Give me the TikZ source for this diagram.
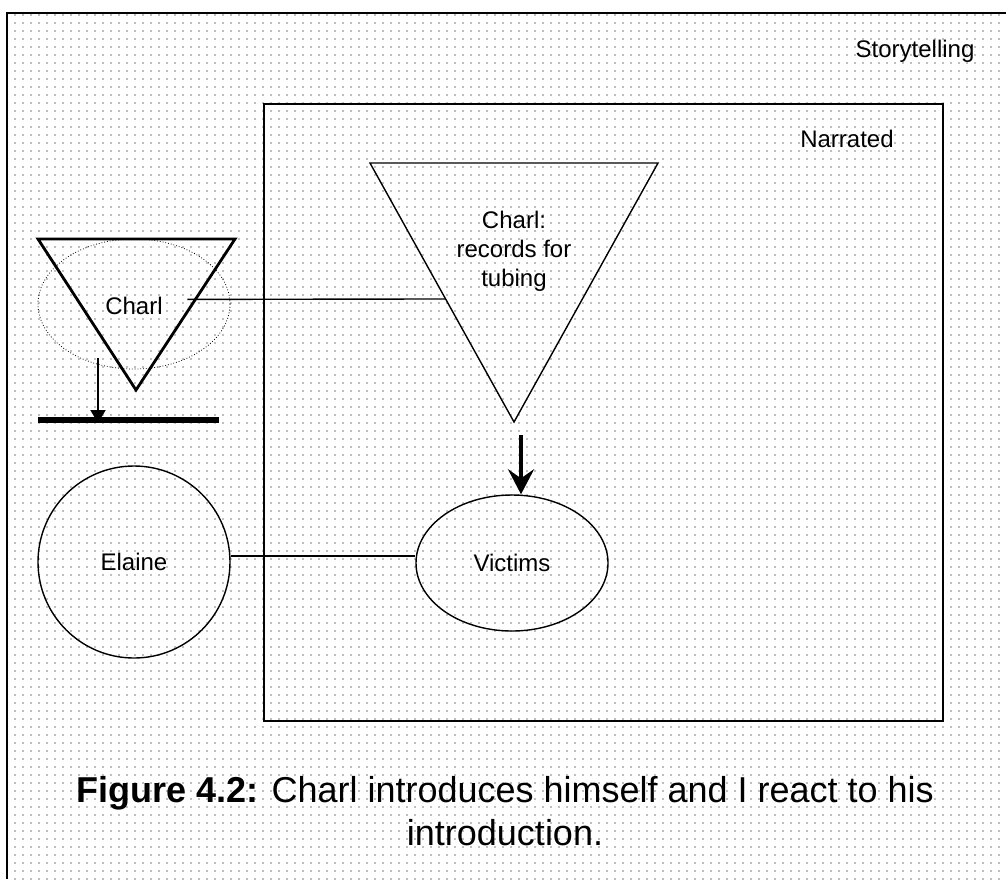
\documentclass[tikz,border=0pt]{standalone}
\usepackage{fontspec}
\setmainfont{Liberation Sans}
\usetikzlibrary{shapes.geometric, arrows.meta, calc}
\definecolor{dotgrey}{RGB}{190,190,190}
\tikzset{>=Stealth,
  every node/.style={font=\fontsize{12}{14.5}\selectfont, inner sep=1pt},
  thinshape/.style={draw, line width=0.7pt},
  dotrow/.style={dotgrey, line width=1pt, dash pattern=on 1pt off 3pt},
  bigarrow/.style={->, >={Stealth[length=12.5pt, width=13pt, inset=4.5pt]}, line width=2pt},
  droparrow/.style={->, >={Triangle[length=6.5pt, width=7.5pt]}, line width=1pt}}

\begin{document}
\begin{tikzpicture}[x=0.5pt, y=-0.5pt]
\useasboundingbox (0,0) rectangle (1006,879);
\foreach \y in {15,23,...,879}
\draw[dotrow] (14,\y) -- (1006,\y);
\draw[line width=1pt] (7,879) -- (7,13) -- (1006,13);
\node (Storytelling) at (915,51) {Storytelling};
\draw[line width=0.9pt] (264,104) rectangle (943,721);
\node (Narrated) at (847,139) {Narrated};
% Charl outside, with the bar below
\coordinate (smallTL) at (38,239);
\coordinate (smallTR) at (235,239);
\coordinate (smallApex) at (136,390);
\draw[line width=1.4pt] (smallTL) -- (smallTR) -- (smallApex) -- cycle;
\node[ellipse, draw, densely dotted, line width=0.4pt, minimum width=96pt, minimum height=65pt] (Charl) at (134,304) {};
\node (CharlTxt) at (134,306) {Charl};
\draw[line width=3pt] (38,420) coordinate (barL) -- (219,420) coordinate (barR);
\coordinate (dropTop) at (98,358);
\draw[droparrow] (dropTop) -- ([yshift=-1.5pt]dropTop |- barL);
% Charl narrated
\coordinate (bigTL) at (370,163);
\coordinate (bigTR) at (658,163);
\coordinate (bigApex) at (514,422);
\draw[line width=0.7pt] (bigTL) -- (bigTR) -- (bigApex) -- cycle;
\node[align=center] (Records) at (514,251) {Charl:\\records for\\tubing};
\coordinate (smallHit) at ($(smallTR)!0.4!(smallApex)$);
\coordinate (bigHit) at ($(bigTL)!0.525!(bigApex)$);
\draw[line width=0.7pt] ([xshift=-4pt]smallHit) -- (bigHit);
\node[ellipse, thinshape, minimum width=96pt, minimum height=68pt] (Victims) at (512,563) {Victims};
\coordinate (pushTop) at (521,435);
\draw[bigarrow] (pushTop) -- (pushTop |- Victims.north);
\node[circle, thinshape, minimum size=96pt] (Elaine) at (134,562) {Elaine};
\coordinate (elaineOut) at ([yshift=3pt]Elaine.east);
\draw[line width=0.7pt] (elaineOut) -- (elaineOut -| Victims.west);
\node[font=\fontsize{18}{21.6}\selectfont, align=center] (Caption) at (505,811)
  {\textbf{Figure 4.2:} Charl introduces himself and I react to his\\introduction.};
\end{tikzpicture}
\end{document}
